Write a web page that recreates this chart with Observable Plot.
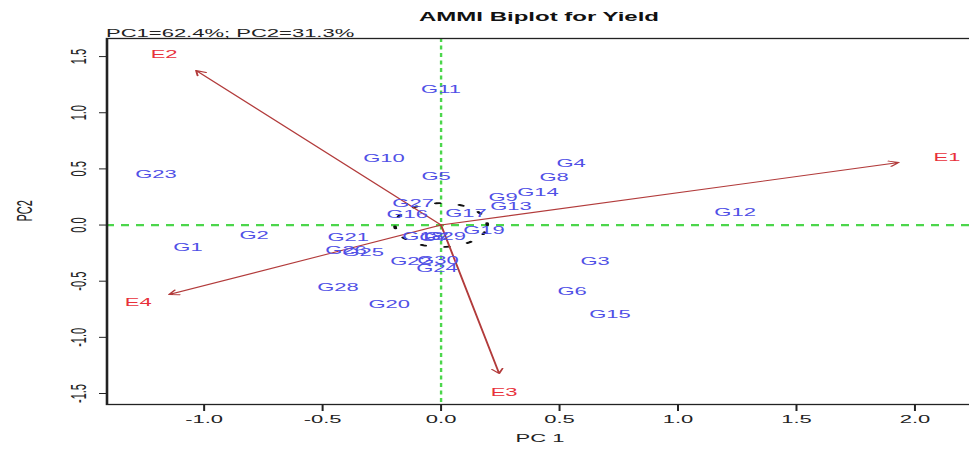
<!DOCTYPE html>
<html><head><meta charset="utf-8">
<script src="https://cdn.jsdelivr.net/npm/d3@7"></script>
<script src="https://cdn.jsdelivr.net/npm/@observablehq/plot@0.6"></script>
<style>
html,body{margin:0;padding:0;background:#fff;overflow:hidden;}
#wrap{position:relative;width:486px;height:454px;transform:scaleX(2);transform-origin:0 0;font-family:"Liberation Sans",Arial,sans-serif;}
#title{position:absolute;left:53px;width:433px;top:10px;text-align:center;font-weight:bold;font-size:12px;line-height:14px;color:#111;}
#sub{position:absolute;left:53px;top:27px;font-size:11px;line-height:12px;color:#222;white-space:nowrap;}
#chart{position:absolute;left:0;top:30px;}
</style></head><body>
<div id="wrap">
  <div id="title">AMMI Biplot for Yield</div>
  <div id="sub">PC1=62.4%; PC2=31.3%</div>
  <div id="chart"></div>
</div>
<script>
const genotypes = ["G1","G2","G3","G4","G5","G6","G7","G8","G9","G10","G11","G12","G13","G14","G15","G16","G17","G18","G19","G20","G21","G22","G23","G24","G25","G26","G27","G28","G29","G30"];
const genoPC1 = [-1.068,-0.789,0.650,0.549,-0.021,0.553,-0.030,0.477,0.262,-0.241,0.000,1.241,0.295,0.409,0.713,-0.143,0.105,-0.076,0.181,-0.219,-0.392,-0.127,-1.203,-0.017,-0.329,-0.401,-0.118,-0.435,0.017,-0.013];
const genoPC2 = [-0.200,-0.094,-0.325,0.548,0.432,-0.592,-0.111,0.423,0.245,0.592,1.207,0.111,0.165,0.289,-0.797,0.093,0.102,-0.102,-0.049,-0.708,-0.111,-0.325,0.450,-0.387,-0.245,-0.227,0.191,-0.557,-0.102,-0.316];
const environments = ["E1","E2","E3","E4"];
const envPC1 = [2.135,-1.169,0.266,-1.278];
const envPC2 = [0.601,1.518,-1.490,-0.690];
const arrowPC1 = [1.932,-1.034,0.245,-1.148];
const arrowPC2 = [0.557,1.376,-1.322,-0.619];
const xTicks = [-1,-0.5,0,0.5,1,1.5,2];
const yTicks = [-1.5,-1,-0.5,0,0.5,1,1.5];
const circleRadius = 0.195;
const xDomain = [-1.41, 2.245];
const yDomain = [-1.598, 1.661];

const geno = genotypes.map((g,i)=>({g, x:genoPC1[i], y:genoPC2[i]}));
const env = environments.map((e,i)=>({e, x:envPC1[i], y:envPC2[i], ax:arrowPC1[i], ay:arrowPC2[i]}));
const circle = d3.range(0, 361, 4).map(a => ({x: circleRadius*Math.cos(a*Math.PI/180), y: circleRadius*Math.sin(a*Math.PI/180)}));
const fmt = d => d.toFixed(1);

const chart = Plot.plot({
  width: 486, height: 424,
  marginLeft: 53, marginRight: 0, marginTop: 8, marginBottom: 50,
  x: {domain: xDomain},
  y: {domain: yDomain},
  style: {fontFamily: '"Liberation Sans", Arial, sans-serif', fontSize: "11px", color: "#222", background: "transparent"},
  marks: [
    Plot.ruleY([0], {stroke: "#4cd64c", strokeWidth: 2.2, strokeDasharray: "4,3.5"}),
    Plot.ruleX([0], {stroke: "#4cd64c", strokeWidth: 1.2, strokeDasharray: "4,3.5"}),
    Plot.line(circle, {x: "x", y: "y", stroke: "#111", strokeWidth: 1.8, strokeDasharray: "2,10", curve: "linear"}),
    Plot.arrow(env, {x1: () => 0, y1: () => 0, x2: "ax", y2: "ay", stroke: "#b23b3b", strokeWidth: 1, headLength: 8}),
    Plot.text(env, {x: "x", y: "y", text: "e", fill: "#e8303a", fontSize: 11}),
    Plot.text(geno, {x: "x", y: "y", text: "g", fill: "#5050e6", fontSize: 11}),
    Plot.axisX(xTicks, {tickSize: 7, tickPadding: 4, tickFormat: fmt, label: null, fontSize: 11}),
    Plot.axisY(yTicks, {tickSize: 3.5, tickPadding: 7, tickRotate: -90, tickFormat: fmt, label: null, fontSize: 11}),
    Plot.text(["PC 1"], {frameAnchor: "bottom", dy: 37, fontSize: 11}),
    Plot.text(["PC2"], {frameAnchor: "left", dx: -41, rotate: -90, fontSize: 11}),
    Plot.frame({stroke: "#222", strokeWidth: 1.3})
  ]
});
document.getElementById("chart").appendChild(chart);
</script>
</body></html>
